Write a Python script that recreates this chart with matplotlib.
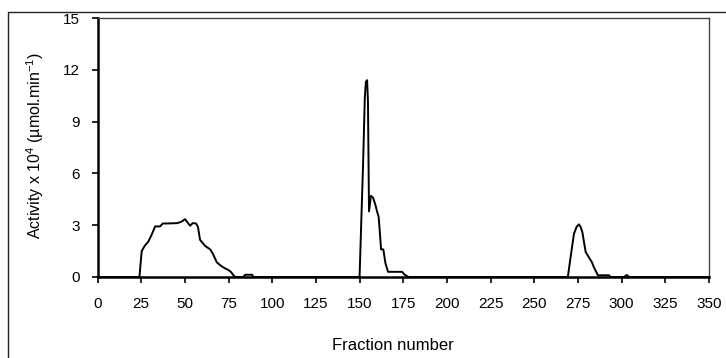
import numpy as np
import matplotlib
matplotlib.use('Agg')
import matplotlib.pyplot as plt
from matplotlib.patches import Rectangle

plt.rcParams['font.family'] = ['Liberation Sans', 'DejaVu Sans']
plt.rcParams['mathtext.fontset'] = 'custom'
plt.rcParams['mathtext.rm'] = 'Liberation Sans'
plt.rcParams['mathtext.it'] = 'Liberation Sans:italic'

# fraction number vs activity
fraction = [0, 23, 24, 25.3, 27, 29.1, 31, 33, 35.8, 37.4, 40, 45.7, 48, 50.1, 53, 54.5, 56.4, 57.5,
            58.7, 61.6, 64.5, 66, 68.3, 70, 72.1, 75, 76.5, 78.2, 79.4, 83.5, 84.5, 88.5, 89.3,
            150, 151, 152, 153, 153.6, 154.3, 154.8, 155.4, 156.5, 157.7, 159, 160, 160.9, 161.6,
            162.3, 163.6, 164.8, 166.3, 174.3, 175.6, 178,
            269.2, 271, 272.7, 274.2, 275.5, 276.5, 277.5, 279.4, 281.8, 283, 284.1, 286.4, 292.7, 293.7,
            301.5, 302.9, 304.3, 350]
activity = [0, 0, 0, 1.5, 1.8, 2.05, 2.45, 2.93, 2.93, 3.1, 3.1, 3.12, 3.2, 3.35, 2.97, 3.12, 3.1, 2.9,
            2.15, 1.8, 1.6, 1.35, 0.85, 0.7, 0.55, 0.4, 0.28, 0.05, 0, 0, 0.13, 0.13, 0,
            0, 3.3, 6.5, 10.4, 11.3, 11.4, 10.2, 3.8, 4.7, 4.6, 4.2, 3.8, 3.5, 2.6,
            1.6, 1.6, 0.8, 0.3, 0.3, 0.15, 0,
            0, 1.3, 2.5, 2.9, 3.05, 2.9, 2.6, 1.45, 1.05, 0.85, 0.57, 0.1, 0.1, 0,
            0, 0.12, 0, 0]

x_ticks = np.arange(0, 351, 25)
y_ticks = np.arange(0, 16, 3)

fig = plt.figure(figsize=(7.26, 3.58), dpi=100)
ax = fig.add_axes([97.5 / 726, 1 - 277 / 358, (709 - 97.5) / 726, (277 - 18) / 358])

# outer chart frame (cropped on right and bottom)
fig.patches.append(Rectangle((8 / 726, -0.5), 1.5, 0.5 + 1 - 12 / 358, transform=fig.transFigure,
                             fill=False, edgecolor='#222222', linewidth=1.0))

ax.plot(fraction, activity, color='black', linewidth=1.4, clip_on=False)

ax.set_xlim(0, 350)
ax.set_ylim(0, 15)
ax.set_xticks(x_ticks)
ax.set_yticks(y_ticks)
ax.tick_params(axis='both', direction='out', length=4, width=1.2, colors='black', labelsize=11)
ax.tick_params(axis='x', pad=10.5)
ax.tick_params(axis='y', pad=8.5)

for side in ['top', 'right']:
    ax.spines[side].set_color('#444444')
    ax.spines[side].set_linewidth(1.0)
for side in ['bottom', 'left']:
    ax.spines[side].set_color('black')
    ax.spines[side].set_linewidth(1.8)

fig.text(35 / 726, 1 - 146 / 358, 'Activity x 10$^{4}$ (µmol.min$^{-1}$)', rotation=90,
         ha='center', va='center', fontsize=11.5)
fig.text(393 / 726, 1 - 346 / 358, 'Fraction number', ha='center', va='center', fontsize=12)

fig.savefig('out.png', dpi=100)
